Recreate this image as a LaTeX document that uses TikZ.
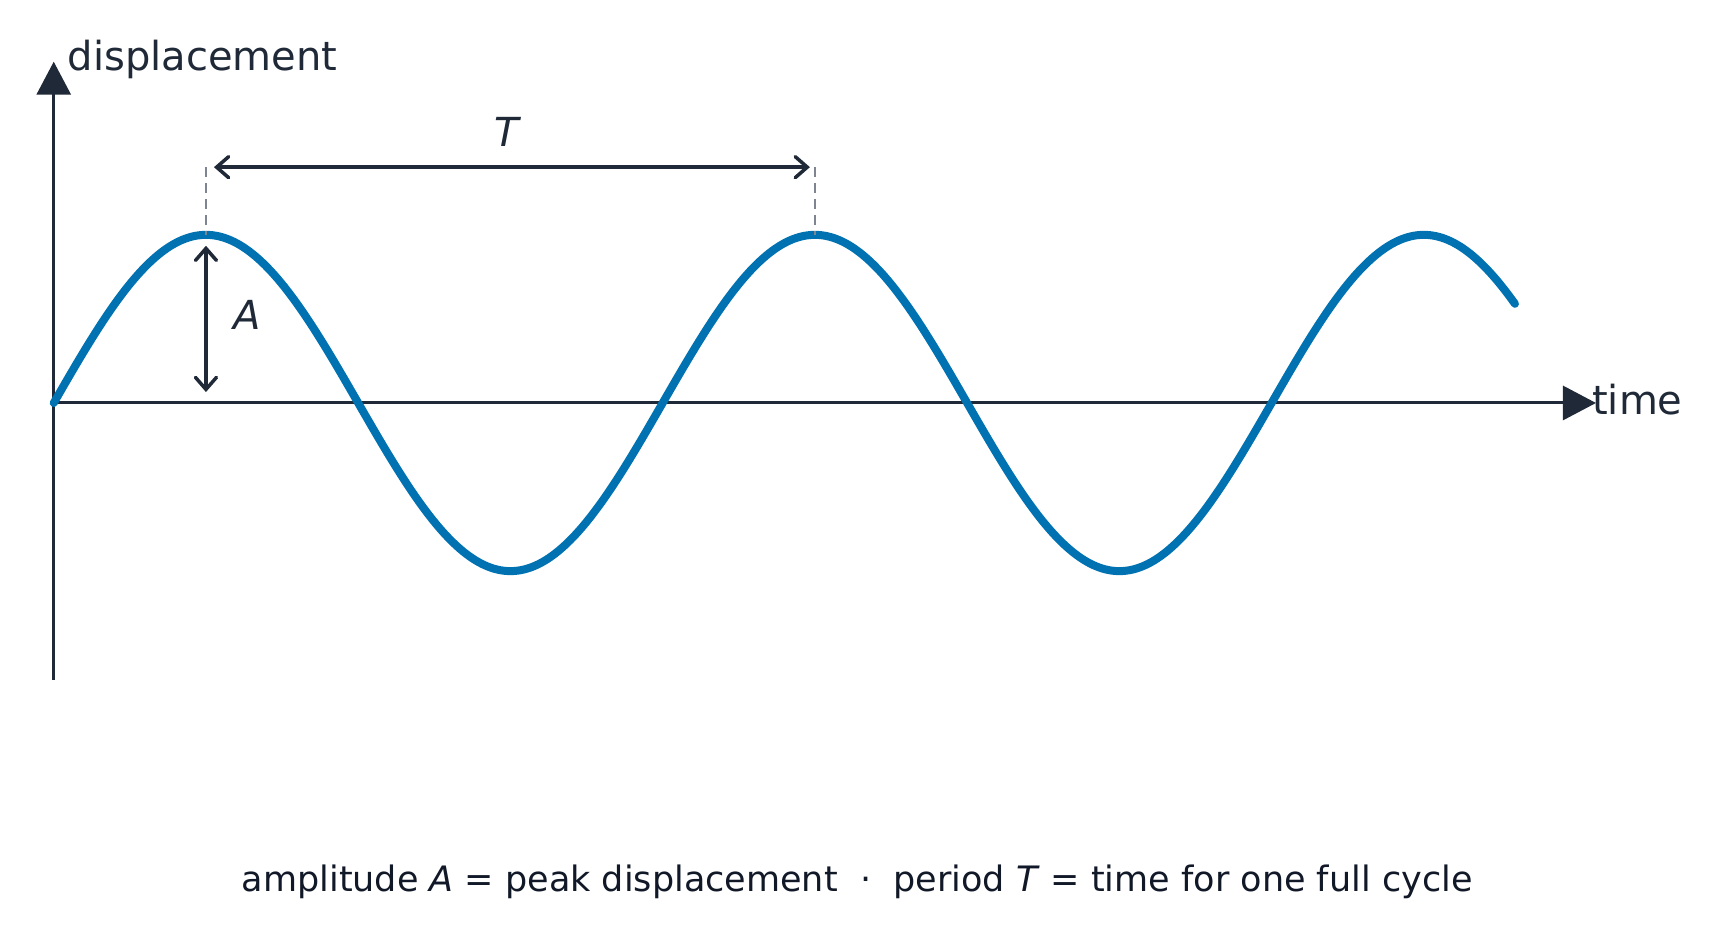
\documentclass[tikz,border=0pt]{standalone}
\usepackage{fontspec}
\setmainfont{DejaVu Sans}
\usetikzlibrary{arrows.meta}
\definecolor{axiscol}{HTML}{1F2937}
\definecolor{wavecol}{HTML}{0072B2}
\definecolor{dashcol}{HTML}{7E8590}
\definecolor{textcol}{HTML}{1F2937}
\definecolor{capcol}{HTML}{111827}
\begin{document}
\begin{tikzpicture}[x=0.995pt,y=-0.995pt,
  axisline/.style={draw=axiscol,line width=3pt,-{Triangle[length=33pt,width=34pt]}},
  dimline/.style={draw=axiscol,line width=3.5pt,{Straight Barb[length=12pt,width=21pt,line cap=round]}-{Straight Barb[length=12pt,width=21pt,line cap=round]}},
  guide/.style={draw=dashcol,line width=2.3pt,dash pattern=on 10pt off 6pt},
  wave/.style={draw=wavecol,line width=8pt,line cap=round},
  lbl/.style={inner sep=0pt,text=textcol,font=\fontsize{40}{48}\selectfont},
  captext/.style={inner sep=0pt,text=capcol,font=\fontsize{35}{42}\selectfont}]
\useasboundingbox (0,0) rectangle (1731.66,943.72);
\fill[white] (0,0) rectangle (1731.66,943.72);
% coordinates
\coordinate (O) at (54,405);
\coordinate (ytop) at (54,62);
\coordinate (ybot) at (54,683);
\coordinate (xend) at (1604,405);
\coordinate (p1) at (207,236);
\coordinate (p2) at (819,236);
\coordinate (g1) at (207,168);
\coordinate (g2) at (819,168);
\coordinate (a1) at (207,247);
\coordinate (a2) at (207,394);
% axes
\draw[draw=axiscol,line width=3pt] (ybot) -- (O);
\draw[axisline] (O) -- (ytop);
\draw[axisline] (O) -- (xend);
% wave
\draw[wave] plot[domain=0:2.4,samples=240,smooth] ({54+612*\x},{405-169*sin(360*\x)});
% guides
\draw[guide] (g1) -- (p1);
\draw[guide] (g2) -- (p2);
% dimension arrows
\draw[dimline,shorten <=8pt,shorten >=5pt] (g1) -- (g2);
\draw[dimline] (a1) -- (a2);
% labels
\node[lbl,anchor=base west] (disp) at (68,71) {displacement};
\node[lbl,anchor=base west] (time) at (1600,417) {time};
\node[lbl,anchor=base] (Tl) at (511,147) {\textit{T}};
\node[lbl,anchor=base] (Al) at (248,331) {\textit{A}};
\node[captext,anchor=base] (caption) at (861.5,896) {amplitude \textit{A} = peak displacement \ \textperiodcentered\ \ period \textit{T} = time for one full cycle};
\end{tikzpicture}
\end{document}
